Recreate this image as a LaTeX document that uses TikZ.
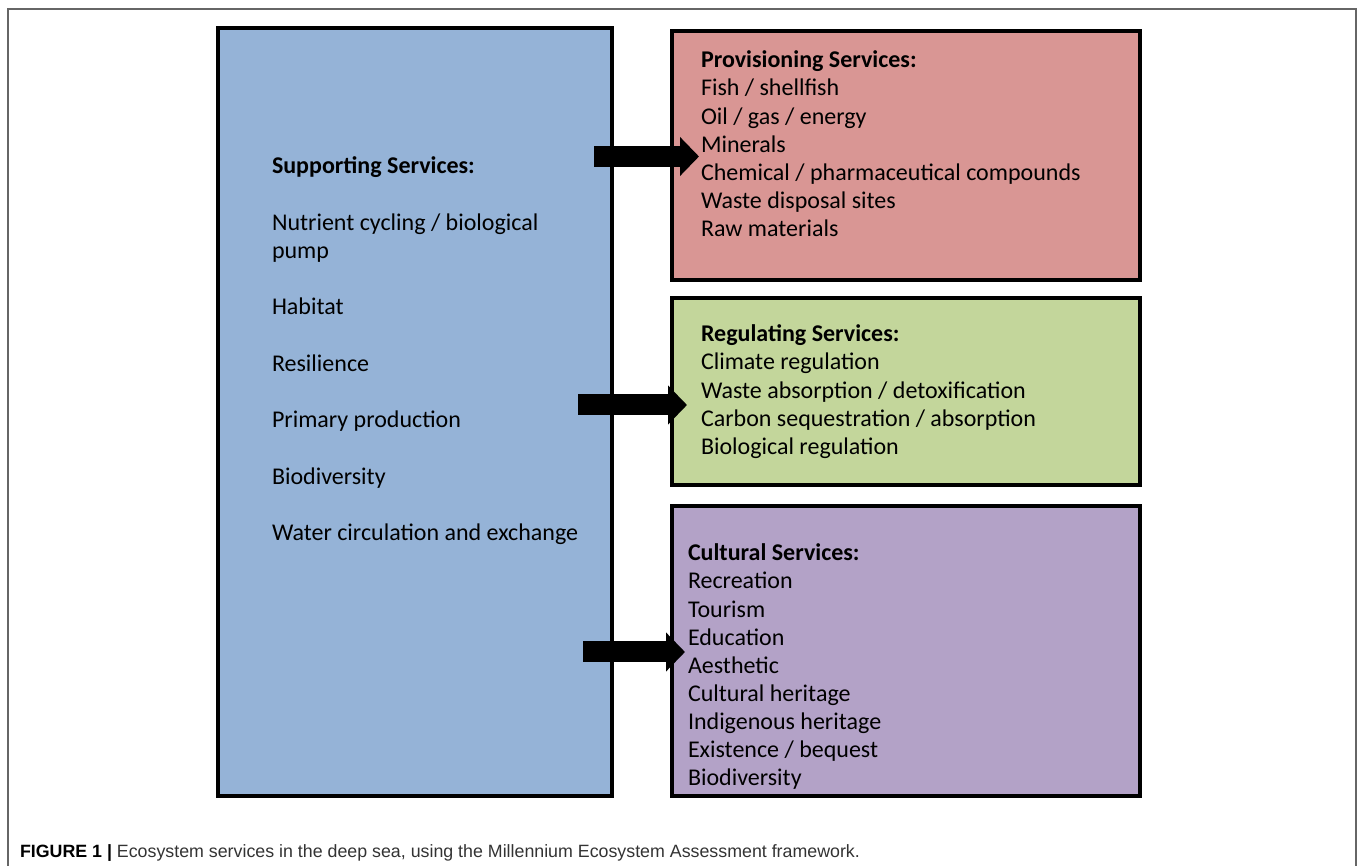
\documentclass[tikz,border=0pt]{standalone}
\usepackage{fontspec}
\setmainfont{Carlito}
\newfontfamily\capfont{Liberation Sans}
\usetikzlibrary{arrows.meta,fit}

\definecolor{supblue}{HTML}{95B3D7}
\definecolor{provred}{HTML}{D99694}
\definecolor{reggreen}{HTML}{C3D69B}
\definecolor{cultviolet}{HTML}{B3A2C7}

\begin{document}
\begin{tikzpicture}[x=0.5pt,y=-0.5pt,line width=2pt,
  box/.style={draw=black,inner sep=0pt,outer sep=0pt},
  txt/.style={anchor=north west,inner sep=0pt,align=left,font=\fontsize{12pt}{14.05pt}\selectfont},
  blockarrow/.style={line width=10.5pt,-{Triangle[length=9.5pt,width=19pt]}}]

\useasboundingbox (0,0) rectangle (1357,866);
% frame round the figure
\draw[line width=0.6pt,black!60] (8,866) -- (8,9) -- (1356,9) -- (1356,866);

\node[box,fill=supblue,fit={(218,28) (611.5,796)}] (supporting) {};
\node[box,fill=provred,fit={(672,31) (1139.5,280)}] (provisioning) {};
\node[box,fill=reggreen,fit={(672,298) (1139.5,485)}] (regulating) {};
\node[box,fill=cultviolet,fit={(672,506) (1139.5,796)}] (cultural) {};

\node[txt,font=\fontsize{12pt}{14.1pt}\selectfont] (suptext) at (270,155) {\textbf{Supporting Services:}\\ \\
  Nutrient cycling / biological\\ pump\\ \\ Habitat\\ \\ Resilience\\ \\
  Primary production\\ \\ Biodiversity\\ \\ Water circulation and exchange};
\node[txt] (provtext) at (699,49) {\textbf{Provisioning Services:}\\ Fish / shellfish\\
  Oil / gas / energy\\ Minerals\\ Chemical / pharmaceutical compounds\\
  Waste disposal sites\\ Raw materials};
\node[txt] (regtext) at (699,323) {\textbf{Regulating Services:}\\ Climate regulation\\
  Waste absorption / detoxification\\ Carbon sequestration / absorption\\
  Biological regulation};
\node[txt] (culttext) at (686,542) {\textbf{Cultural Services:}\\ Recreation\\ Tourism\\
  Education\\ Aesthetic\\ Cultural heritage\\ Indigenous heritage\\
  Existence / bequest\\ Biodiversity};

% arrows from supporting to the other services
\coordinate (a1) at (594,156.5);
\coordinate (b1) at (699,156.5);
\coordinate (a2) at (578,405);
\coordinate (b2) at (687,405);
\coordinate (a3) at (583,652);
\coordinate (b3) at (685,652);
\draw[blockarrow] (a1) -- (b1);
\draw[blockarrow] (a2) -- (b2);
\draw[blockarrow] (a3) -- (b3);

\node[anchor=base west,inner sep=0pt,font=\capfont\fontsize{8.9pt}{10pt}\selectfont,text=black!80] (caption) at (18,857)
  {\textcolor{black}{\textbf{FIGURE 1 |}} Ecosystem services in the deep sea, using the Millennium Ecosystem Assessment framework.};
\end{tikzpicture}
\end{document}
